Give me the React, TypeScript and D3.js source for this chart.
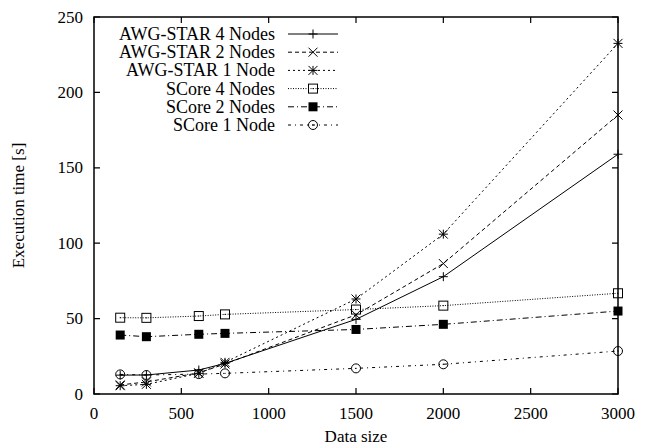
import { useRef, useEffect } from 'react';
import * as d3 from 'd3';

const sizes = [150, 300, 600, 750, 1500, 2000, 3000];

const awg4 = [12.5, 12.6, 15.9, 20.3, 49.5, 77.8, 159];
const awg2 = [6.0, 8.0, 14.0, 19.9, 52.5, 86.5, 185];
const awg1 = [5.5, 6.4, 13.7, 21.0, 63.0, 106, 232.5];
const score4 = [50.6, 50.5, 51.7, 52.8, 56.0, 58.6, 66.8];
const score2 = [39.1, 38.0, 39.6, 40.2, 42.8, 46.2, 55.0];
const score1 = [13.0, 12.6, 13.2, 13.7, 17.0, 19.7, 28.5];

const xTicks = [0, 500, 1000, 1500, 2000, 2500, 3000];
const yTicks = [0, 50, 100, 150, 200, 250];

const series = [
  { name: 'AWG-STAR 4 Nodes', values: awg4, dash: null, marker: 'plus' },
  { name: 'AWG-STAR 2 Nodes', values: awg2, dash: '4,3', marker: 'cross' },
  { name: 'AWG-STAR 1 Node', values: awg1, dash: '2,3', marker: 'star' },
  { name: 'SCore 4 Nodes', values: score4, dash: '1,1.5', marker: 'box' },
  { name: 'SCore 2 Nodes', values: score2, dash: '6,3,1,3', marker: 'fbox' },
  { name: 'SCore 1 Node', values: score1, dash: '3,4,1,4', marker: 'circle' },
];

const drawMarker = (g, type, cx, cy) => {
  const r = 4.5;
  const stroke = '#000';
  if (type === 'plus') {
    g.append('path').attr('d', `M${cx - r},${cy}H${cx + r}M${cx},${cy - r}V${cy + r}`).attr('stroke', stroke).attr('fill', 'none');
  } else if (type === 'cross') {
    g.append('path').attr('d', `M${cx - r},${cy - r}L${cx + r},${cy + r}M${cx - r},${cy + r}L${cx + r},${cy - r}`).attr('stroke', stroke).attr('fill', 'none');
  } else if (type === 'star') {
    g.append('path').attr('d', `M${cx - r},${cy}H${cx + r}M${cx},${cy - r}V${cy + r}M${cx - r},${cy - r}L${cx + r},${cy + r}M${cx - r},${cy + r}L${cx + r},${cy - r}`).attr('stroke', stroke).attr('fill', 'none');
  } else if (type === 'box') {
    g.append('rect').attr('x', cx - r).attr('y', cy - r).attr('width', 2 * r).attr('height', 2 * r).attr('stroke', stroke).attr('fill', 'none');
    g.append('rect').attr('x', cx - 0.5).attr('y', cy - 0.5).attr('width', 1).attr('height', 1).attr('fill', stroke);
  } else if (type === 'fbox') {
    g.append('rect').attr('x', cx - r).attr('y', cy - r).attr('width', 2 * r).attr('height', 2 * r).attr('fill', stroke);
  } else if (type === 'circle') {
    g.append('circle').attr('cx', cx).attr('cy', cy).attr('r', r).attr('stroke', stroke).attr('fill', 'none');
    g.append('circle').attr('cx', cx).attr('cy', cy).attr('r', 0.7).attr('fill', stroke);
  }
};

const App = () => {
  const ref = useRef(null);

  useEffect(() => {
    const svg = d3.select(ref.current);
    svg.selectAll('*').remove();
    const width = 654, height = 447;
    const margin = { top: 17, right: 36, bottom: 53, left: 94 };
    const x = d3.scaleLinear().domain([0, 3000]).range([margin.left, width - margin.right]);
    const y = d3.scaleLinear().domain([0, 250]).range([height - margin.bottom, margin.top]);
    const font = '"Liberation Serif", "DejaVu Serif", serif';
    const tl = 6;

    // frame
    svg.append('rect')
      .attr('x', x(0)).attr('y', y(250))
      .attr('width', x(3000) - x(0)).attr('height', y(0) - y(250))
      .attr('fill', 'none').attr('stroke', '#000').attr('stroke-width', 1.5);

    // ticks (gnuplot style: inward, mirrored)
    xTicks.forEach(t => {
      svg.append('path').attr('d', `M${x(t)},${y(0)}v${-tl}M${x(t)},${y(250)}v${tl}`).attr('stroke', '#000').attr('stroke-width', 1.2);
      svg.append('text').attr('x', x(t)).attr('y', y(0) + 25).attr('text-anchor', 'middle')
        .attr('font-family', font).attr('font-size', 17).text(t);
    });
    yTicks.forEach(t => {
      svg.append('path').attr('d', `M${x(0)},${y(t)}h${tl}M${x(3000)},${y(t)}h${-tl}`).attr('stroke', '#000').attr('stroke-width', 1.2);
      svg.append('text').attr('x', x(0) - 11).attr('y', y(t) + 5.5).attr('text-anchor', 'end')
        .attr('font-family', font).attr('font-size', 17).text(t);
    });

    svg.append('text').attr('x', (x(0) + x(3000)) / 2).attr('y', 442).attr('text-anchor', 'middle')
      .attr('font-family', font).attr('font-size', 17).text('Data size');
    svg.append('text').attr('transform', `translate(24, ${(y(0) + y(250)) / 2}) rotate(-90)`)
      .attr('text-anchor', 'middle').attr('font-family', font).attr('font-size', 17).text('Execution time [s]');

    const line = d3.line().x(d => x(d[0])).y(d => y(d[1]));

    series.forEach((s, i) => {
      const pts = sizes.map((v, j) => [v, s.values[j]]);
      const g = svg.append('g');
      g.append('path').attr('d', line(pts)).attr('fill', 'none').attr('stroke', '#000').attr('stroke-width', 1)
        .attr('stroke-dasharray', s.dash);
      pts.forEach(p => drawMarker(g, s.marker, x(p[0]), y(p[1])));

      // legend
      const ly = 34 + i * 18.2;
      svg.append('text').attr('x', 275).attr('y', ly + 6).attr('text-anchor', 'end')
        .attr('font-family', font).attr('font-size', 18).text(s.name);
      svg.append('path').attr('d', `M288,${ly}H338`).attr('stroke', '#000').attr('stroke-width', 1)
        .attr('stroke-dasharray', s.dash);
      drawMarker(svg.append('g'), s.marker, 313, ly);
    });
  }, []);

  return <svg ref={ref} width={654} height={447} style={{ position: 'absolute', left: 0, top: 0 }}></svg>;
};

export default App;
